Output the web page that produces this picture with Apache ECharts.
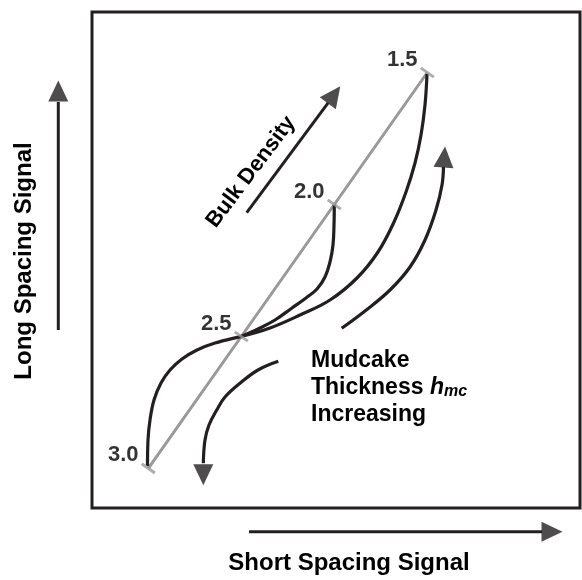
<!DOCTYPE html>
<html><head><meta charset="utf-8">
<script src="https://cdn.jsdelivr.net/npm/echarts@6/dist/echarts.min.js"></script>
<style>html,body{margin:0;padding:0;background:#fff}#c{width:582px;height:580px}</style>
</head><body><div id="c"></div>
<script>
// Bulk density scale (gray line) and its tick labels
const densityLabels = ['3.0', '2.5', '2.0', '1.5'];
const densityPoints = [[56.3, 39.7], [149.3, 171.5], [242.3, 303.5], [335.3, 435.5]];

// Response curves (from 3.0 up to the 2.5 crossing, then branching to 2.0 and 1.5)
const curveLower = [[55.5, 42], [56, 68], [58, 88], [62, 108], [69, 125], [78, 138], [90, 149], [105, 158], [123, 165], [149, 171.5]];
const curveTo20 = [[149, 171.5], [166, 179], [183, 188], [200, 200], [214, 210], [225, 219], [233, 231], [238, 246], [241, 263], [242, 283], [242.3, 303]];
const curveTo15 = [[149, 171.5], [178, 180], [208, 193], [238, 208], [265, 230], [286, 256], [302, 286], [314, 316], [323, 345], [329, 373], [333, 403], [335, 434]];

// Arrows: shaft points (last = head base) and head tip
const arrowBulkShaft = [[154.7, 295.3], [236.1, 405.2]];
const arrowBulkTip = [248, 421.3];
const arrowUpShaft = [[249.7, 179.7], [273, 197], [298, 218], [318, 241], [333, 268], [344, 298], [350, 323], [351.5, 341]];
const arrowUpTip = [353, 361];
const arrowDownShaft = [[186.3, 146.7], [166, 138], [148, 124.7], [133, 111], [124.7, 98], [117, 83], [113, 68], [111.3, 44.7]];
const arrowDownTip = [111.3, 22];
const arrowYShaft = [[-33.7, 178], [-33.7, 406]];
const arrowYTip = [-33.7, 428];
const arrowXShaft = [[157, -23.7], [450, -23.7]];
const arrowXTip = [470, -23.7];

const FONT = '"Liberation Sans", Arial, sans-serif';
const INK = '#231f20';

function headItem(shaft, tip) {
  const b = shaft[shaft.length - 1];
  const ang = Math.atan2(tip[1] - b[1], tip[0] - b[0]) * 180 / Math.PI;
  return { value: [(b[0] + tip[0]) / 2, (b[1] + tip[1]) / 2], symbolRotate: ang - 90 };
}
function lineSeries(data, smooth, color, width) {
  return { type: 'line', xAxisIndex: 1, yAxisIndex: 1, data: data, smooth: smooth, symbol: 'none',
    clip: false, silent: true, lineStyle: { color: color, width: width, cap: 'butt' }, z: 3 };
}

const d0 = densityPoints[0], d1 = densityPoints[densityPoints.length - 1];
const lineAng = Math.atan2(d1[1] - d0[1], d1[0] - d0[0]) * 180 / Math.PI;

const chart = echarts.init(document.getElementById('c'), null, { renderer: 'canvas' });
chart.setOption({
  animation: false,
  grid: [
    { left: 92, top: 12, width: 488, height: 496, show: true, borderColor: INK, borderWidth: 3, backgroundColor: 'transparent' },
    { left: 0, top: 0, width: 582, height: 580, show: false }
  ],
  xAxis: [
    { gridIndex: 0, type: 'value', min: 0, max: 488, show: false },
    { gridIndex: 1, type: 'value', min: -92, max: 490, show: false }
  ],
  yAxis: [
    { gridIndex: 0, type: 'value', min: 0, max: 496, show: false },
    { gridIndex: 1, type: 'value', min: -72, max: 508, show: false }
  ],
  series: [
    lineSeries(densityPoints, false, '#999999', 3),
    {
      type: 'scatter', xAxisIndex: 1, yAxisIndex: 1, clip: false, silent: true, z: 4,
      data: densityPoints.map((p, i) => ({ value: p, name: densityLabels[i] })),
      symbol: 'rect', symbolSize: [16, 3], symbolRotate: lineAng - 90,
      itemStyle: { color: '#999999' },
      label: { show: true, position: 'inside', offset: [-25, -13], formatter: p => p.name,
        color: '#000', fontFamily: FONT, fontWeight: 'bold', fontSize: 22 }
    },
    lineSeries(curveLower, 0.4, INK, 3.2),
    lineSeries(curveTo20, 0.4, INK, 3.2),
    lineSeries(curveTo15, 0.4, INK, 3.2),
    lineSeries(arrowBulkShaft, false, INK, 3),
    lineSeries(arrowUpShaft, 0.4, INK, 3.2),
    lineSeries(arrowDownShaft, 0.4, INK, 3.2),
    lineSeries(arrowYShaft, false, INK, 3),
    lineSeries(arrowXShaft, false, INK, 3),
    {
      type: 'scatter', xAxisIndex: 1, yAxisIndex: 1, clip: false, silent: true, z: 5,
      symbol: 'triangle', symbolSize: [20, 21],
      itemStyle: { color: INK },
      data: [
        headItem(arrowBulkShaft, arrowBulkTip),
        headItem(arrowUpShaft, arrowUpTip),
        headItem(arrowDownShaft, arrowDownTip),
        headItem(arrowYShaft, arrowYTip),
        headItem(arrowXShaft, arrowXTip)
      ]
    }
  ],
  graphic: [
    { type: 'text', x: 24, y: 261, rotation: Math.PI / 2,
      style: { text: 'Long Spacing Signal', fontFamily: FONT, fontWeight: 'bold', fontSize: 24, fill: '#000', align: 'center', verticalAlign: 'middle' } },
    { type: 'text', x: 349, y: 563,
      style: { text: 'Short Spacing Signal', fontFamily: FONT, fontWeight: 'bold', fontSize: 24, fill: '#000', align: 'center', verticalAlign: 'middle' } },
    { type: 'text', x: 251, y: 172, rotation: 53 * Math.PI / 180,
      style: { text: 'Bulk Density', fontFamily: FONT, fontWeight: 'bold', fontSize: 22, fill: '#000', align: 'center', verticalAlign: 'middle' } },
    { type: 'text', x: 311, y: 386,
      style: {
        text: '{a|Mudcake}\n{a|Thickness }{b|h}{c|mc}\n{a|Increasing}',
        align: 'left', verticalAlign: 'middle', fill: '#000',
        rich: {
          a: { fontFamily: FONT, fontWeight: 'bold', fontSize: 23, lineHeight: 27, fill: '#000', verticalAlign: 'bottom' },
          b: { fontFamily: FONT, fontWeight: 'bold', fontStyle: 'italic', fontSize: 23, lineHeight: 27, fill: '#000', verticalAlign: 'bottom' },
          c: { fontFamily: FONT, fontWeight: 'bold', fontStyle: 'italic', fontSize: 16, lineHeight: 22, fill: '#000', verticalAlign: 'bottom' }
        }
      } }
  ]
});
</script></body></html>
